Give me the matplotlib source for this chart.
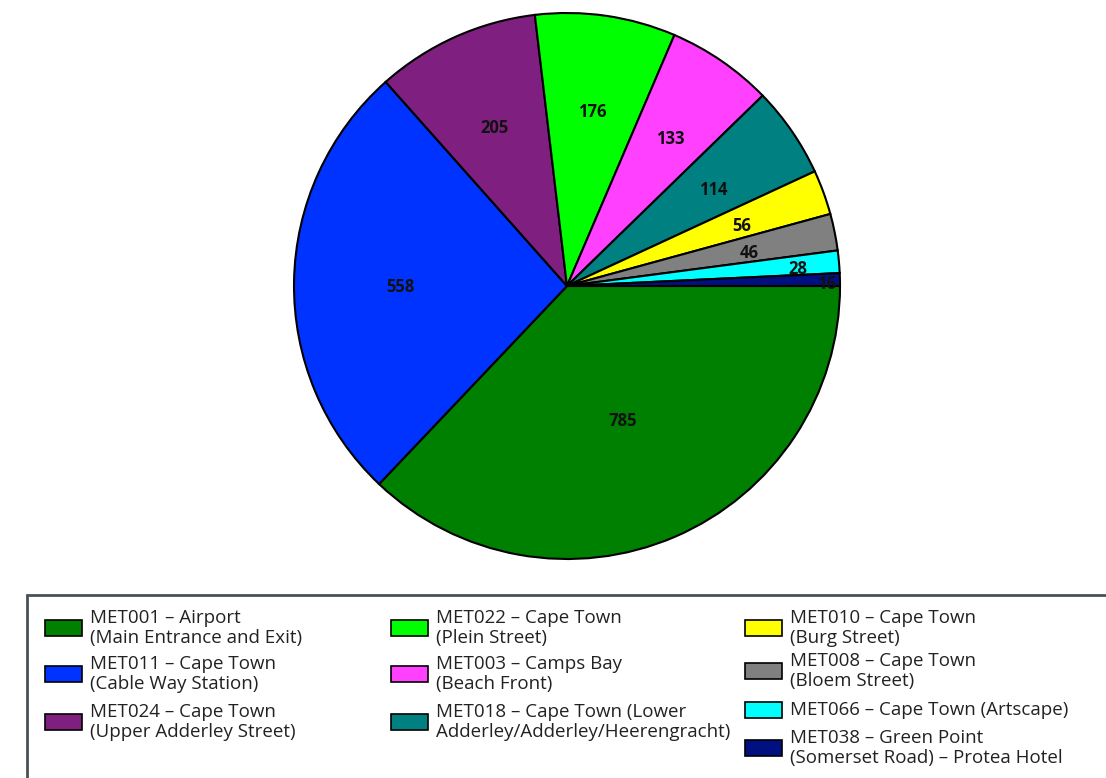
import numpy as np
import matplotlib
matplotlib.use("Agg")
from matplotlib import pyplot as plt
from matplotlib.patches import Rectangle

plt.rcParams['font.family'] = ['Open Sans', 'DejaVu Sans']

# data
counts = [785, 558, 205, 176, 133, 114, 56, 46, 28, 16]
colors = ['#008000', '#0033FF', '#7F1F7F', '#00FF00', '#FF40FF',
          '#008080', '#FFFF00', '#808080', '#00FFFF', '#001080']
names = ['MET001 \u2013 Airport\n(Main Entrance and Exit)',
         'MET011 \u2013 Cape Town\n(Cable Way Station)',
         'MET024 \u2013 Cape Town\n(Upper Adderley Street)',
         'MET022 \u2013 Cape Town\n(Plein Street)',
         'MET003 \u2013 Camps Bay\n(Beach Front)',
         'MET018 \u2013 Cape Town (Lower\nAdderley/Adderley/Heerengracht)',
         'MET010 \u2013 Cape Town\n(Burg Street)',
         'MET008 \u2013 Cape Town\n(Bloem Street)',
         'MET066 \u2013 Cape Town (Artscape)',
         'MET038 \u2013 Green Point\n(Somerset Road) \u2013 Protea Hotel']
# radial position of each value label (fraction of radius)
label_r = [0.52, 0.61, 0.65, 0.66, 0.67, 0.65, 0.68, 0.68, 0.85, 0.95]

W, H = 1106, 778
fig = plt.figure(figsize=(W / 100, H / 100), dpi=100)

cx, cy, R = 567, 286, 273
ax = fig.add_axes([(cx - R) / W, (H - cy - R) / H, 2 * R / W, 2 * R / H])
wedges, _ = ax.pie(counts, colors=colors, startangle=0, counterclock=False,
                   wedgeprops=dict(edgecolor='black', linewidth=1.5))
ax.set_xlim(-1, 1)
ax.set_ylim(-1, 1)
ax.set_aspect('equal')

for w, v, r in zip(wedges, counts, label_r):
    ang = np.deg2rad((w.theta1 + w.theta2) / 2)
    ax.text(r * np.cos(ang), r * np.sin(ang) - 0.015, str(v), ha='center',
            va='center', fontsize=12, fontweight='bold', color='#111111')

# legend frame (runs off the right and bottom edge)
fig.patches.append(Rectangle((27 / W, -0.05), 1.2, (H - 595) / H + 0.05,
                             transform=fig.transFigure, fill=False,
                             edgecolor='#4a5058', linewidth=2, clip_on=False))

# legend entries, columns of 3, 3 and 4
col_x = [45, 391, 745]
row_y = [[628, 674, 722], [628, 674, 722], [628, 671, 710, 748]]
idx = 0
for cxp, ys in zip(col_x, row_y):
    for y in ys:
        fig.patches.append(Rectangle((cxp / W, (H - y - 8) / H), 37 / W, 16 / H,
                                     transform=fig.transFigure,
                                     facecolor=colors[idx], edgecolor='black',
                                     linewidth=1.2))
        fig.text((cxp + 45) / W, (H - y) / H, names[idx], ha='left',
                 va='center', fontsize=13.5, linespacing=1.08, color='#222222')
        idx += 1

fig.savefig('out.png', dpi=100)
